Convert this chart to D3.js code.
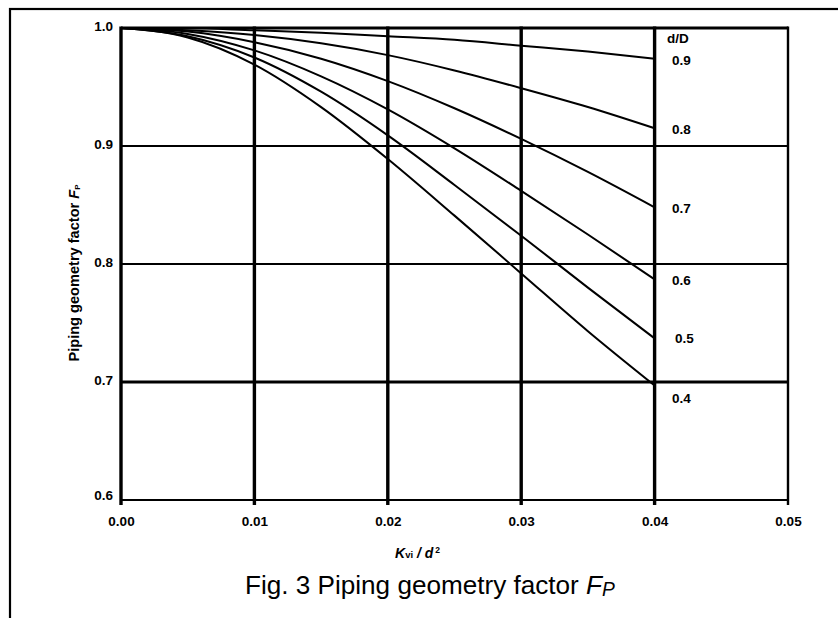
<!DOCTYPE html>
<html>
<head>
<meta charset="utf-8">
<script src="https://cdn.jsdelivr.net/npm/d3@7"></script>
<style>
  html, body { margin: 0; padding: 0; background: #fff; }
  svg { display: block; }
  text { font-family: "Liberation Sans", Arial, Helvetica, sans-serif; fill: #000; }
</style>
</head>
<body>
<svg id="chart" width="838" height="618"></svg>
<script>
// ---- data ----
const xValues = [0, 0.005, 0.01, 0.015, 0.02, 0.025, 0.03, 0.035, 0.04];
const ratios = ["0.9", "0.8", "0.7", "0.6", "0.5", "0.4"];
const fp09 = [1.000, 1.000, 0.998, 0.996, 0.993, 0.990, 0.985, 0.980, 0.974];
const fp08 = [1.000, 0.998, 0.994, 0.987, 0.977, 0.964, 0.949, 0.933, 0.915];
const fp07 = [1.000, 0.997, 0.988, 0.974, 0.955, 0.932, 0.906, 0.878, 0.848];
const fp06 = [1.000, 0.995, 0.981, 0.959, 0.931, 0.898, 0.862, 0.825, 0.787];
const fp05 = [1.000, 0.993, 0.975, 0.946, 0.909, 0.867, 0.824, 0.780, 0.737];
const fp04 = [1.000, 0.992, 0.969, 0.933, 0.889, 0.841, 0.792, 0.743, 0.697];
const xTicks = [0, 0.01, 0.02, 0.03, 0.04, 0.05];
const xTickLabels = ["0.00", "0.01", "0.02", "0.03", "0.04", "0.05"];
const yTicks = [0.6, 0.7, 0.8, 0.9, 1.0];
const yTickLabels = ["0.6", "0.7", "0.8", "0.9", "1.0"];
const legendTitle = "d/D";
const yTitle = "Piping geometry factor ";
const captionText = "Fig. 3 Piping geometry factor ";

const seriesValues = [fp09, fp08, fp07, fp06, fp05, fp04];

// ---- layout ----
const svg = d3.select("#chart");
const pL = 121, pR = 788, pT = 28, pB = 500;
const x = d3.scaleLinear().domain([0, 0.05]).range([pL, pR]);
const y = d3.scaleLinear().domain([0.6, 1.0]).range([pB, pT]);

// outer frame (cropped on right/bottom)
svg.append("rect")
  .attr("x", 10).attr("y", 9).attr("width", 860).attr("height", 640)
  .attr("fill", "none").attr("stroke", "#000").attr("stroke-width", 2.2);

// horizontal grid lines
const thickY = v => (Math.abs(v - 1.0) < 1e-9 || Math.abs(v - 0.7) < 1e-9) ? 3.2 : 2.2;
svg.append("g").selectAll("line").data(yTicks).join("line")
  .attr("x1", pL).attr("x2", pR)
  .attr("y1", d => y(d)).attr("y2", d => y(d))
  .attr("stroke", "#000").attr("stroke-width", thickY);

// vertical grid lines (extend slightly below axis as ticks)
const thickX = v => (v < 0.045) ? 3.4 : 2.4;
svg.append("g").selectAll("line").data(xTicks).join("line")
  .attr("x1", d => x(d)).attr("x2", d => x(d))
  .attr("y1", pT - 1.5).attr("y2", pB + 5)
  .attr("stroke", "#000").attr("stroke-width", thickX);

// axes labels via d3 axes
const xAxis = d3.axisBottom(x).tickValues(xTicks)
  .tickFormat((d, i) => xTickLabels[i]).tickSize(0).tickPadding(0);
const gx = svg.append("g").attr("transform", `translate(0,${pB})`).call(xAxis);
gx.select(".domain").remove();
gx.selectAll("text").attr("y", 0).attr("dy", 26)
  .style("font-size", "13.5px").style("font-weight", "bold")
  .style("font-family", '"Liberation Sans", Arial, sans-serif').attr("fill", "#000");

const yAxis = d3.axisLeft(y).tickValues(yTicks)
  .tickFormat((d, i) => yTickLabels[i]).tickSize(0).tickPadding(0);
const gy = svg.append("g").attr("transform", `translate(${pL - 8},0)`).call(yAxis);
gy.select(".domain").remove();
gy.selectAll("text").attr("x", 0).attr("dy", d => d === 0.6 ? "-0.05em" : "0.2em")
  .style("font-size", "13.5px").style("font-weight", "bold")
  .style("font-family", '"Liberation Sans", Arial, sans-serif').attr("fill", "#000");

// curves
const line = d3.line()
  .x((d, i) => x(xValues[i]))
  .y(d => y(d))
  .curve(d3.curveMonotoneX);
svg.append("g").selectAll("path").data(seriesValues).join("path")
  .attr("d", d => line(d))
  .attr("fill", "none").attr("stroke", "#000").attr("stroke-width", 2)
  .attr("stroke-linejoin", "round");

// legend labels at the right end of curves
svg.append("text").attr("x", 667).attr("y", 43)
  .style("font-size", "13.5px").style("font-weight", "bold").text(legendTitle);
const labelOffsets = [6, 6, 6, 6, 5, 17];
svg.append("g").selectAll("text").data(ratios).join("text")
  .attr("x", (d, i) => i === 4 ? 675 : 672)
  .attr("y", (d, i) => y(seriesValues[i][seriesValues[i].length - 1]) + labelOffsets[i])
  .style("font-size", "13.5px").style("font-weight", "bold")
  .text(d => d);

// y-axis title (rotated)
const yt = svg.append("text")
  .attr("transform", "translate(79,273) rotate(-90)")
  .attr("text-anchor", "middle")
  .style("font-weight", "bold").style("font-size", "12.5px");
yt.append("tspan").text(yTitle);
yt.append("tspan").style("font-style", "italic").text("F");
yt.append("tspan").style("font-size", "8px").attr("dy", "1").text("P");
{
  const w = yt.node().getComputedTextLength();
  const s = 12.5 * 178 / w;
  yt.style("font-size", s + "px");
}

// x-axis title
const xt = svg.append("text").attr("x", 395).attr("y", 558)
  .style("font-weight", "bold").style("font-size", "14px");
xt.append("tspan").style("font-style", "italic").text("K");
xt.append("tspan").style("font-size", "9.5px").text("vi");
xt.append("tspan").style("font-style", "italic").text(" / d");
xt.append("tspan").style("font-size", "8.5px").attr("dx", "2").attr("dy", "-5").text("2");

// caption (condensed look via horizontal scaling)
const cap = svg.append("text")
  .style("font-family", '"Liberation Sans Narrow", "Arial Narrow", "Liberation Sans", Arial, sans-serif')
  .style("font-size", "26.5px");
cap.append("tspan").text(captionText);
cap.append("tspan").style("font-style", "italic").text("F");
cap.append("tspan").style("font-style", "italic").style("font-size", "19.5px").attr("dy", "2").text("P");
{
  const w = cap.node().getComputedTextLength();
  const sx = 370 / w;
  cap.attr("transform", `translate(245,594) scale(${sx},1)`);
}
</script>
</body>
</html>
